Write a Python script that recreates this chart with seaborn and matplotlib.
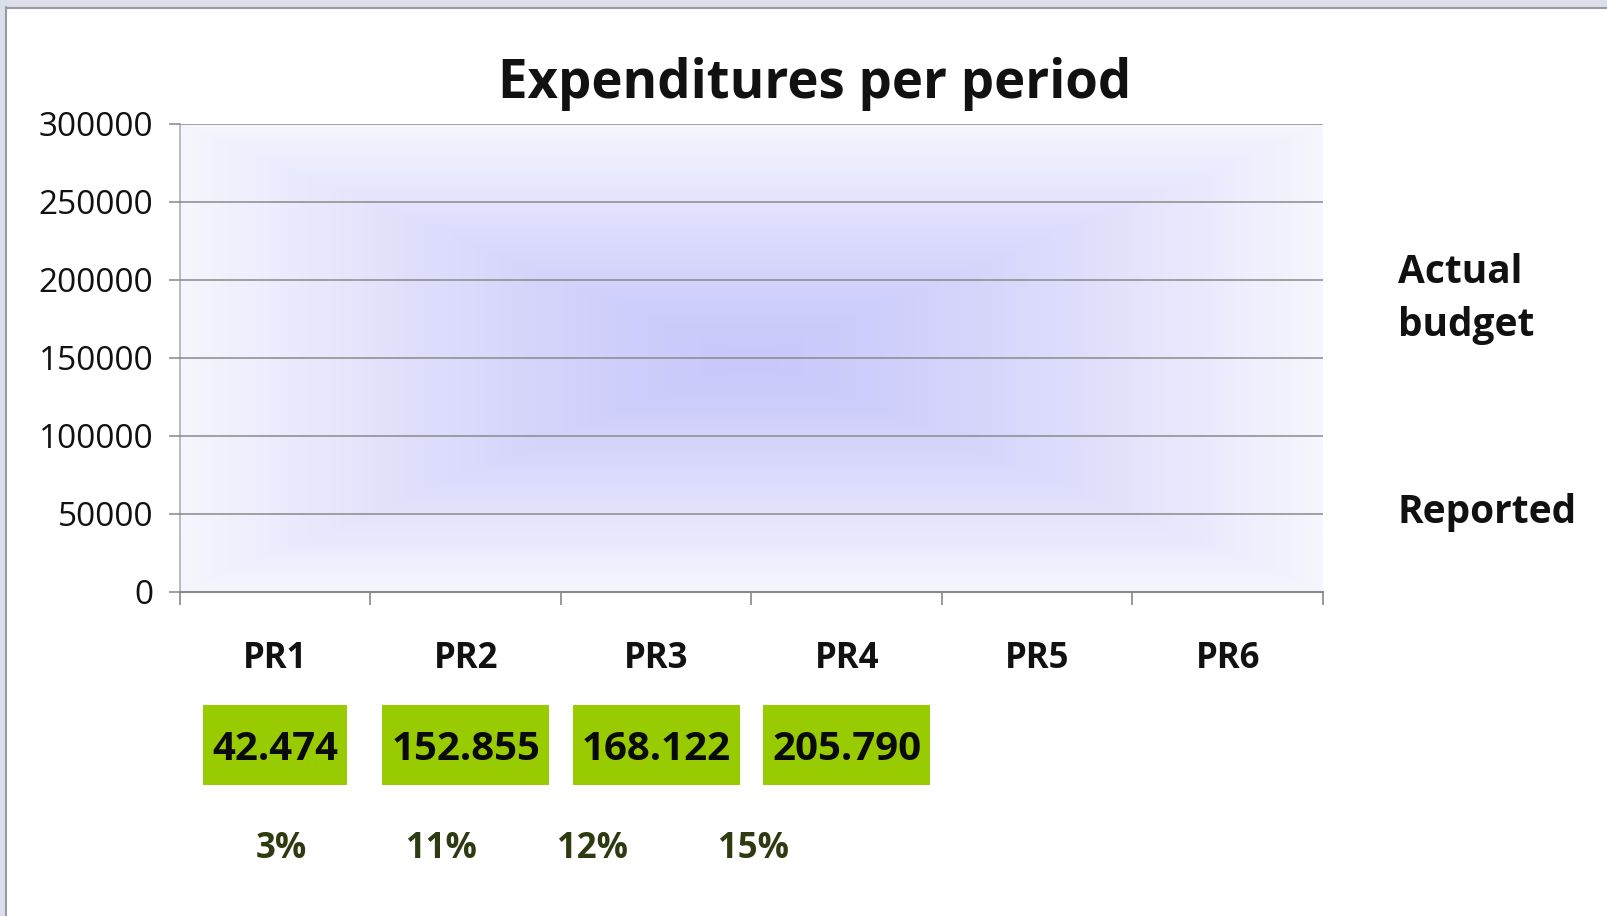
import numpy as np
import pandas as pd
import matplotlib
matplotlib.use("Agg")
import matplotlib.pyplot as plt
from matplotlib.patches import Rectangle
from matplotlib.transforms import blended_transform_factory
import seaborn as sns

# ---------------- data ----------------
periods = ["PR1", "PR2", "PR3", "PR4", "PR5", "PR6"]
series_names = ["Actual budget", "Reported"]
actual_budget = [np.nan] * 6          # no marks drawn in the reference
reported = [np.nan] * 6               # no marks drawn in the reference
reported_totals = ["42.474", "152.855", "168.122", "205.790"]
reported_pct = ["3%", "11%", "12%", "15%"]
y_ticks = [0, 50000, 100000, 150000, 200000, 250000, 300000]

# ---------------- style ----------------
sns.set_theme(style="white")
FONT = "Open Sans"
plt.rcParams["font.family"] = [FONT, "DejaVu Sans"]

W, H, DPI = 1608, 916, 100
fig = plt.figure(figsize=(W / DPI, H / DPI), dpi=DPI)
fig.patch.set_facecolor("white")

def px(x, y):
    return x / W, 1 - y / H

# plot area in pixels
L, R, T, B = 180, 1323, 124, 592
ax = fig.add_axes([L / W, 1 - B / H, (R - L) / W, (B - T) / H])

df = pd.DataFrame({
    "period": periods * 2,
    "series": [series_names[0]] * 6 + [series_names[1]] * 6,
    "value": actual_budget + reported,
})
sns.barplot(data=df, x="period", y="value", hue="series", ax=ax,
            legend=False, errorbar=None)

ax.set_xlim(-0.5, 5.5)
ax.set_ylim(0, 300000)

# background gradient (rectangular path gradient from centre)
nx, ny = 600, 300
gx = np.linspace(-1, 1, nx)
gy = np.linspace(-1, 1, ny)
XX, YY = np.meshgrid(gx, gy)
t = np.maximum(np.abs(XX), np.abs(YY))
c0 = np.array([0xC8, 0xC8, 0xFB]) / 255
c1 = np.array([0xF6, 0xF6, 0xFE]) / 255
img = c0[None, None, :] + (c1 - c0)[None, None, :] * t[..., None] ** 1.3
ax.imshow(img, extent=[-0.5, 5.5, 0, 300000], aspect="auto", zorder=0,
          interpolation="bilinear")
ax.set_facecolor("#f4f4fd")

# grid + spines
ax.set_yticks(y_ticks)
ax.set_yticklabels([str(v) for v in y_ticks], fontsize=24, color="#111111")
ax.yaxis.grid(True, color="#8a8a8a", linewidth=1.1, zorder=1)
ax.xaxis.grid(False)
ax.set_axisbelow(False)
for s in ["top", "right"]:
    ax.spines[s].set_visible(False)
ax.spines["left"].set_color("#b0b0b0")
ax.spines["left"].set_linewidth(1.2)
ax.spines["bottom"].set_color("#888888")
ax.spines["bottom"].set_linewidth(1.5)
ax.tick_params(axis="y", which="major", length=8, width=1.1, color="#888888",
               pad=11, left=True)

# x: boundary ticks (major, no labels), centred labels (minor)
ax.set_xticks(np.arange(-0.5, 6, 1.0))
ax.set_xticklabels([])
ax.tick_params(axis="x", which="major", length=9.5, width=1.2, color="#888888",
               bottom=True)
ax.set_xticks(np.arange(len(periods)), minor=True)
ax.set_xticklabels(periods, minor=True, fontsize=25, fontweight="bold",
                   color="#111111")
ax.tick_params(axis="x", which="minor", length=0, pad=35)
ax.set_xlabel("")
ax.set_ylabel("")

# title
fig.text(*px(815, 84), "Expenditures per period", ha="center", va="center",
         fontsize=38, fontweight="bold", color="#111111")

# right-hand series labels
fig.text(*px(1398, 299), "Actual\nbudget", ha="left", va="center",
         fontsize=28, fontweight="bold", color="#111111", linespacing=1.45)
fig.text(*px(1398, 512), "Reported", ha="left", va="center",
         fontsize=28, fontweight="bold", color="#111111")

# green total boxes under the first periods
trans = blended_transform_factory(ax.transData, fig.transFigure)
box_cy = 745
texts = []
for i, lab in enumerate(reported_totals):
    tx = fig.text(i, 1 - (box_cy + 4) / H, lab, transform=trans, ha="center",
                  va="center", fontsize=29, fontweight="bold", color="#0a0a0a",
                  zorder=10)
    texts.append(tx)
fig.canvas.draw()
rend = fig.canvas.get_renderer()
for tx in texts:
    bb = tx.get_window_extent(rend)
    w = bb.width + 18
    cx = (bb.x0 + bb.x1) / 2
    rect = Rectangle(((cx - w / 2) / W, 1 - (box_cy + 40) / H), w / W, 80 / H,
                     transform=fig.transFigure, facecolor="#99cc00",
                     edgecolor="none", zorder=4)
    fig.patches.append(rect)

# percentages
pct_x_px = [281, 441, 593, 754]
for xp, lab in zip(pct_x_px, reported_pct):
    fig.text(*px(xp, 849), lab, ha="center", va="center", fontsize=25,
             fontweight="bold", color="#2e3b10")

# slide frame
fig.patches.append(Rectangle((0, 1 - 7 / H), 1, 7 / H, transform=fig.transFigure,
                             facecolor="#dcdeea", edgecolor="none"))
fig.patches.append(Rectangle((0, 0), 6 / W, 1, transform=fig.transFigure,
                             facecolor="#dcdeea", edgecolor="none"))
fig.lines.append(plt.Line2D([6 / W, 1], [1 - 7.5 / H, 1 - 7.5 / H],
                            transform=fig.transFigure, color="#9a9aa2", lw=1.5))
fig.lines.append(plt.Line2D([6.5 / W, 6.5 / W], [0, 1 - 7 / H],
                            transform=fig.transFigure, color="#9a9aa2", lw=1.5))

fig.savefig("out.png", dpi=DPI)
